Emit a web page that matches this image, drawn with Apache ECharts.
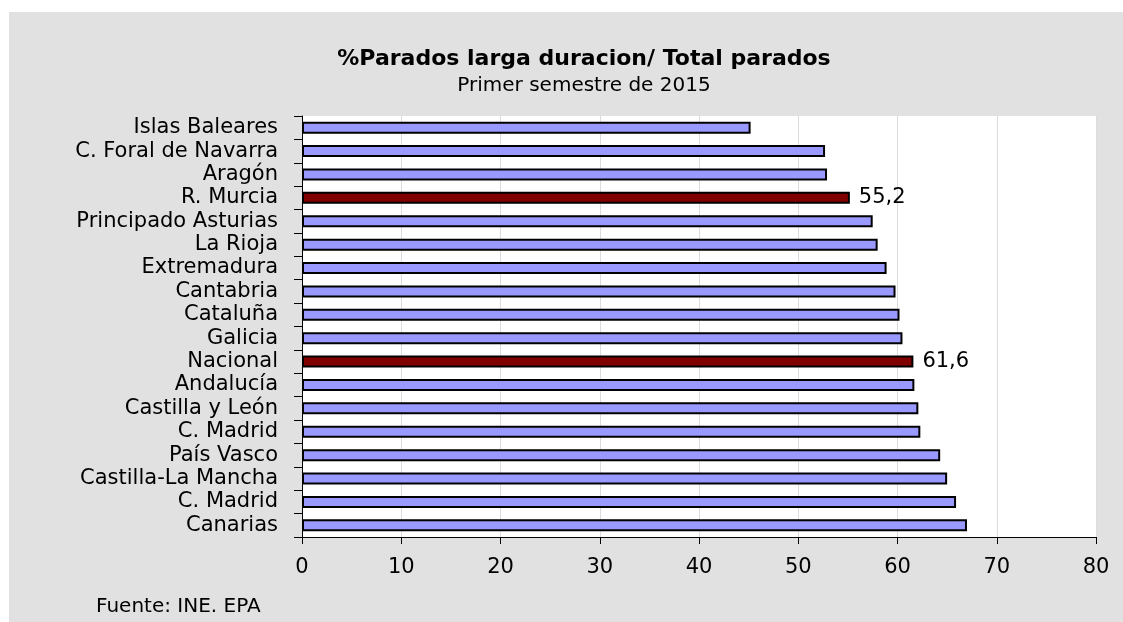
<!DOCTYPE html>
<html>
<head>
<meta charset="utf-8">
<script src="https://cdn.jsdelivr.net/npm/echarts@6/dist/echarts.min.js"></script>
<style>
  html, body { margin: 0; padding: 0; background: #ffffff; }
  #chart { width: 1123px; height: 622px; }
</style>
</head>
<body>
<div id="chart"></div>
<script>
// ---- Data ----
const titleText = '%Parados larga duracion/ Total parados';
const subtitleText = 'Primer semestre de 2015';
const sourceText = 'Fuente: INE. EPA';
const categories = ['Islas Baleares', 'C. Foral de Navarra', 'Aragón', 'R. Murcia', 'Principado Asturias',
  'La Rioja', 'Extremadura', 'Cantabria', 'Cataluña', 'Galicia', 'Nacional', 'Andalucía',
  'Castilla y León', 'C. Madrid', 'País Vasco', 'Castilla-La Mancha', 'C. Madrid', 'Canarias'];
const values = [45.2, 52.7, 52.9, 55.2, 57.5, 58.0, 58.9, 59.8, 60.2, 60.5, 61.6, 61.7,
  62.1, 62.3, 64.3, 65.0, 65.9, 67.0];
const highlighted = ['R. Murcia', 'Nacional'];
const xTicks = [0, 10, 20, 30, 40, 50, 60, 70, 80];

// ---- Chart ----
const FONT = 'DejaVu Sans';
const chart = echarts.init(document.getElementById('chart'), null, { renderer: 'canvas' });

const seriesData = values.map((v, i) => {
  const hi = highlighted.indexOf(categories[i]) >= 0;
  return {
    value: v,
    itemStyle: { color: hi ? '#800000' : '#9999ff' },
    label: { show: hi }
  };
});

const option = {
  backgroundColor: '#ffffff',
  animation: false,
  graphic: [
    {
      type: 'rect', z: -10, silent: true,
      shape: { x: 9, y: 12, width: 1114, height: 610 },
      style: { fill: '#e1e1e1' }
    },
    {
      type: 'text', left: 96, top: 597,
      style: { text: sourceText, font: '20px "' + FONT + '"', fill: '#000' }
    }
  ],
  title: {
    text: titleText,
    subtext: subtitleText,
    left: 579,
    top: 43,
    textAlign: 'center',
    itemGap: 6,
    textStyle: { fontFamily: FONT, fontWeight: 'bold', fontSize: 22, color: '#000' },
    subtextStyle: { fontFamily: FONT, fontSize: 20, color: '#000' }
  },
  grid: {
    left: 302, right: 27, top: 116, bottom: 85,
    show: true, backgroundColor: '#ffffff', borderWidth: 0,
    containLabel: false
  },
  xAxis: {
    type: 'value',
    min: xTicks[0], max: xTicks[xTicks.length - 1], interval: 10,
    axisLine: { show: true, lineStyle: { color: '#000', width: 1 } },
    axisTick: { show: true, length: 7, lineStyle: { color: '#000' } },
    splitLine: { show: true, lineStyle: { color: '#dcdcdc', width: 1 } },
    axisLabel: { margin: 20, fontFamily: FONT, fontSize: 21, color: '#000' }
  },
  yAxis: {
    type: 'category',
    data: categories,
    inverse: true,
    axisLine: { show: true, lineStyle: { color: '#000', width: 1 } },
    axisTick: { show: true, length: 8, lineStyle: { color: '#000' } },
    splitLine: { show: false },
    axisLabel: { margin: 24, fontFamily: FONT, fontSize: 21, color: '#000', interval: 0 }
  },
  series: [{
    type: 'bar',
    data: seriesData,
    barWidth: 12,
    itemStyle: { borderColor: '#000', borderWidth: 2 },
    label: {
      position: 'right', distance: 9,
      fontFamily: FONT, fontSize: 21, color: '#000',
      formatter: p => String(p.value.toFixed(1)).replace('.', ',')
    }
  }]
};
chart.setOption(option);
</script>
</body>
</html>
